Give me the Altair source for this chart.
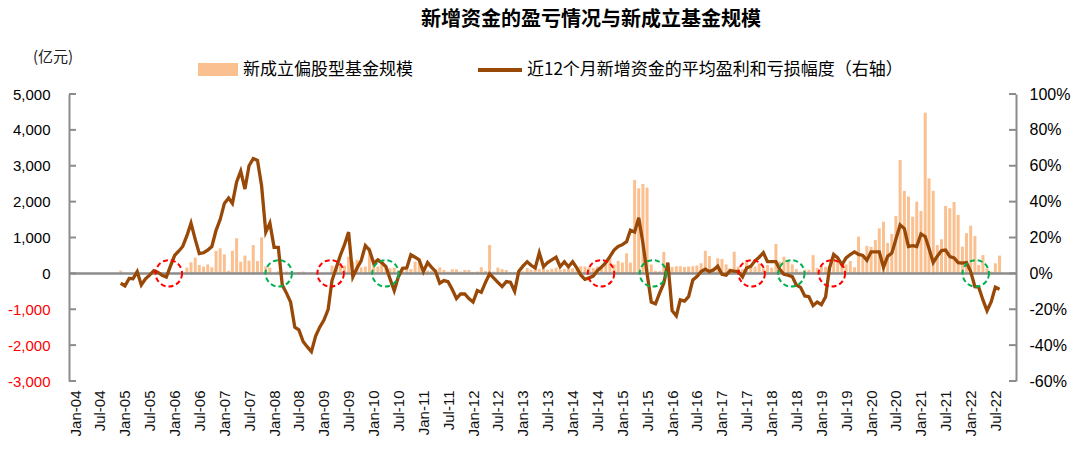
import altair as alt
import pandas as pd

# ---------------- data ----------------
# New equity-oriented fund issuance, 亿元, monthly from Jan-2004 to Aug-2022
fund_size = [
    # 2004
    0, 0, 0, 0, 0, 0, 0, 0, 0, 0, 0, 75,
    # 2005
    0, 0, 0, 0, 0, 0, 0, 0, 0, 0, 0, 0,
    # 2006
    0, 0, 0, 160, 310, 440, 235, 190, 250, 170, 630, 700,
    # 2007
    530, 75, 630, 980, 325, 495, 355, 790, 345, 1005, 190, 160,
    # 2008
    0, 60, 0, 50, 40, 0, 40, 50, 0, 30, 0, 0,
    # 2009
    0, 0, 215, 215, 280, 215, 465, 325, 375, 167, 190, 725,
    # 2010
    190, 190, 325, 150, 140, 160, 80, 90, 100, 120, 325, 300,
    # 2011
    60, 80, 60, 115, 170, 95, 50, 115, 115, 50, 95, 95,
    # 2012
    40, 50, 170, 65, 790, 50, 160, 120, 95, 40, 30, 40,
    # 2013
    60, 150, 100, 180, 120, 150, 100, 130, 160, 100, 120, 150,
    # 2014
    140, 180, 200, 190, 170, 150, 190, 150, 375, 450, 250, 350,
    # 2015
    300, 560, 300, 2600, 2370, 2490, 2390, 250, 70, 60, 600, 210,
    # 2016
    180, 200, 200, 180, 190, 200, 220, 280, 630, 485, 140, 420,
    # 2017
    400, 250, 140, 605, 190, 120, 375, 235, 190, 280, 140, 235,
    # 2018
    160, 820, 325, 465, 345, 250, 120, 50, 100, 100, 510, 150,
    # 2019
    200, 180, 200, 510, 375, 235, 250, 345, 170, 1025, 465, 765,
    # 2020
    740, 930, 1255, 1440, 850, 1100, 1600, 3160, 2300, 2140, 1580, 2000,
    # 2021
    1740, 4480, 2650, 2300, 790, 950, 1880, 1815, 1990, 1630, 745, 1120,
    # 2022
    1330, 1040, 235, 510, 140, 50, 280, 495,
]

# 12-month average profit / loss of new money, %, monthly from Dec-2004 to Aug-2022
profit_start_index = 11  # Dec-2004
profit_pct = [
    # 2004 Dec
    -5.5,
    # 2005
    -7, -2.8, -3, 1, -6.5, -3, -1, 1.5, 0.5, -1, -2, 4,
    # 2006
    10, 12.5, 15, 21, 28, 19, 11, 11.5, 13, 15, 24, 30,
    # 2007
    39, 42, 39, 51, 57, 47, 60, 64, 63, 49, 23, 28,
    # 2008
    14.5, 14.5, -6.5, -11, -16, -30, -31.5, -38, -41, -43.6, -35, -30,
    # 2009
    -26, -20, -4, 3, 10, 16, 23, -2, 3, 7, 15.5, 13,
    # 2010
    5.6, 7.5, 6, 3.7, -3, -9.6, -2, 2.8, 3, 10.4, 9, 7.5,
    # 2011
    1, 6, 3.5, 1, -5.5, -4, -4.6, -9, -14, -11.5, -11.5, -14,
    # 2012
    -16, -9.6, -10.6, -5, -0.3, -2.7, -5, -7.4, -4.6, -5, -10, 1,
    # 2013
    4, 6.5, 4.5, 3, 11.5, 3.7, 6, 7.5, 9, 3.7, 6.5, 3.7,
    # 2014
    6.5, 3, -0.9, -3.3, -2.5, -1.5, 1.5, 3.5, 6, 9.3, 13, 15,
    # 2015
    16, 17.7, 24, 23, 31, 16.8, 0, -16, -17, -11, -5.5, 6,
    # 2016
    -20.8, -23.7, -14.8, -15.5, -13, -3.7, -1.8, 1, 2.3, 1, 2, 4,
    # 2017
    -0.5, -1, 1.5, 1.2, 1, -2, 3, 4, 7, 9, 11.5, 6.5,
    # 2018
    6.5, 6.5, 2.3, -0.5, -1, -1.8, -6.5, -7.8, -12.6, -13, -18, -16,
    # 2019
    -17.5, -13, 2.8, 10.6, 8.6, 4.8, 8.6, 10.5, 12, 10.6, 10, 7.3,
    # 2020
    12, 12, 12, 3.4, 9.5, 11.3, 19, 27, 25, 15, 15.5, 15,
    # 2021
    22, 20.5, 13.8, 6, 9.6, 12.7, 13, 9.3, 8.6, 6, 5.7, 6,
    # 2022
    1, -7.4, -7.7, -14.8, -20.8, -15.8, -7.7, -8.8,
]

# dashed circles marking turning points on the zero line
circle_dates = ["2005-11-19", "2008-02-04", "2009-02-19", "2010-03-28", "2014-07-28",
                "2015-08-13", "2017-08-07", "2018-05-25", "2019-03-19", "2022-02-07"]
circle_kind = ["red", "green", "red", "green", "red",
               "green", "red", "green", "red", "green"]

left_ticks = [-3000, -2000, -1000, 0, 1000, 2000, 3000, 4000, 5000]
right_ticks = [-60, -40, -20, 0, 20, 40, 60, 80, 100]

title_text = "新增资金的盈亏情况与新成立基金规模"
bar_label = "新成立偏股型基金规模"
line_label = "近12个月新增资金的平均盈利和亏损幅度（右轴）"
unit_label = "(亿元)"

# ---------------- build tables ----------------
def month_str(k):
    y = 2004 + k // 12
    m = k % 12 + 1
    return f"{y}-{m:02d}-01T00:00:00"

bars_df = pd.DataFrame({"date": [month_str(k) for k in range(len(fund_size))],
                        "size": fund_size})
line_df = pd.DataFrame({"date": [month_str(k) for k in range(profit_start_index,
                                                              profit_start_index + len(profit_pct))],
                        "pct": profit_pct})
circ_df = pd.DataFrame({"date": [d + "T00:00:00" for d in circle_dates],
                        "kind": circle_kind, "v": [0] * len(circle_dates)})
tick_df = pd.DataFrame({"v": left_ticks})
zero_df = pd.DataFrame({"v": [0]})
one_df = pd.DataFrame({"a": [0]})

W, H = 947, 287
AXIS_GRAY = "#8c8c8c"
NUM_FONT = "Liberation Sans"
CJK_FONT = "Noto Sans CJK SC"
BAR_COLOR = "#FAC090"
LINE_COLOR = "#984807"

x_enc = alt.X(
    "date:T",
    scale=alt.Scale(domain=[alt.DateTime(year=2003, month=12, date=24),
                            alt.DateTime(year=2022, month=10, date=24)]),
    axis=alt.Axis(
        values=[alt.DateTime(year=y, month=m, date=1) for y in range(2004, 2023) for m in (1, 7)],
        format="%b-%y", labelAngle=270, domain=False, ticks=False, grid=False,
        labelFont=NUM_FONT, labelFontSize=15, labelColor="#111111", labelPadding=9,
        labelOverlap=False, labelFlush=False, title=None,
    ),
)

left_scale = alt.Scale(domain=[-3000, 5000], nice=False, zero=False)
right_scale = alt.Scale(domain=[-60, 100], nice=False, zero=False)

left_axis = alt.Axis(
    orient="left", values=left_ticks,
    labelExpr="(datum.value < 0 ? '-' : '') + format(abs(datum.value), ',')",
    labelColor={"condition": {"test": "datum.value < 0", "value": "#FF0000"}, "value": "#000000"},
    labelFont=NUM_FONT, labelFontSize=15, labelPadding=19,
    domain=True, domainColor=AXIS_GRAY, domainWidth=2, ticks=False, grid=False, title=None,
)
right_axis = alt.Axis(
    orient="right", values=right_ticks,
    labelExpr="datum.value + '%'",
    labelColor="#000000", labelFont=NUM_FONT, labelFontSize=16, labelPadding=13,
    domain=True, domainColor=AXIS_GRAY, domainWidth=2, ticks=False, grid=False, title=None,
)

bars = alt.Chart(bars_df).mark_bar(color=BAR_COLOR, width=3).encode(
    x=x_enc, y=alt.Y("size:Q", scale=left_scale, axis=left_axis)
)

zero_rule = alt.Chart(zero_df).mark_rule(color=AXIS_GRAY, strokeWidth=2.5).encode(
    y=alt.Y("v:Q", scale=left_scale, axis=None), x=alt.value(0), x2=alt.value(W)
)
ticks_l = alt.Chart(tick_df).mark_rule(color=AXIS_GRAY, strokeWidth=2).encode(
    y=alt.Y("v:Q", scale=left_scale, axis=None), x=alt.value(0), x2=alt.value(7)
)
ticks_r = alt.Chart(tick_df).mark_rule(color=AXIS_GRAY, strokeWidth=2).encode(
    y=alt.Y("v:Q", scale=left_scale, axis=None), x=alt.value(W - 7), x2=alt.value(W)
)
deco = alt.layer(zero_rule, ticks_l, ticks_r)

line = alt.Chart(line_df).mark_line(color=LINE_COLOR, strokeWidth=3.3).encode(
    x=x_enc, y=alt.Y("pct:Q", scale=right_scale, axis=right_axis)
)

circles = alt.Chart(circ_df).mark_point(
    shape="circle", size=700, filled=False, strokeWidth=2, strokeDash=[5, 3], opacity=1
).encode(
    x=x_enc,
    y=alt.Y("v:Q", scale=left_scale, axis=None),
    color=alt.Color("kind:N", scale=alt.Scale(domain=["red", "green"],
                                              range=["#FF0000", "#00B050"]), legend=None),
)

# header: title, unit, legend
title = alt.Chart(one_df).mark_text(
    text=title_text, font=CJK_FONT, fontSize=20, fontWeight="bold", color="#000000",
    align="center", baseline="top"
).encode(x=alt.value(522), y=alt.value(-84))

unit = alt.Chart(one_df).mark_text(
    text=unit_label, font=CJK_FONT, fontSize=15, color="#222222",
    align="left", baseline="middle"
).encode(x=alt.value(-36), y=alt.value(-37))

leg_rect = alt.Chart(one_df).mark_rect(color=BAR_COLOR).encode(
    x=alt.value(129), x2=alt.value(169), y=alt.value(-31), y2=alt.value(-18)
)
leg_text1 = alt.Chart(one_df).mark_text(
    text=bar_label, font=CJK_FONT, fontSize=17, color="#000000", align="left", baseline="middle"
).encode(x=alt.value(174), y=alt.value(-24))
leg_line = alt.Chart(one_df).mark_rule(color=LINE_COLOR, strokeWidth=4).encode(
    x=alt.value(409), x2=alt.value(453), y=alt.value(-24)
)
leg_text2 = alt.Chart(one_df).mark_text(
    text=line_label, font=CJK_FONT, fontSize=17, color="#000000", align="left", baseline="middle"
).encode(x=alt.value(458), y=alt.value(-24))

chart = alt.layer(
    bars, deco, line, circles, title, unit, leg_rect, leg_text1, leg_line, leg_text2
).resolve_scale(
    y="independent"
).properties(
    width=W, height=H,
    autosize=alt.AutoSizeParams(type="none"),
    padding={"left": 61, "top": 86, "right": 56, "bottom": 55},
).configure_view(stroke=None)

chart.save("out.html", embed_options={"renderer": "svg", "actions": False})
